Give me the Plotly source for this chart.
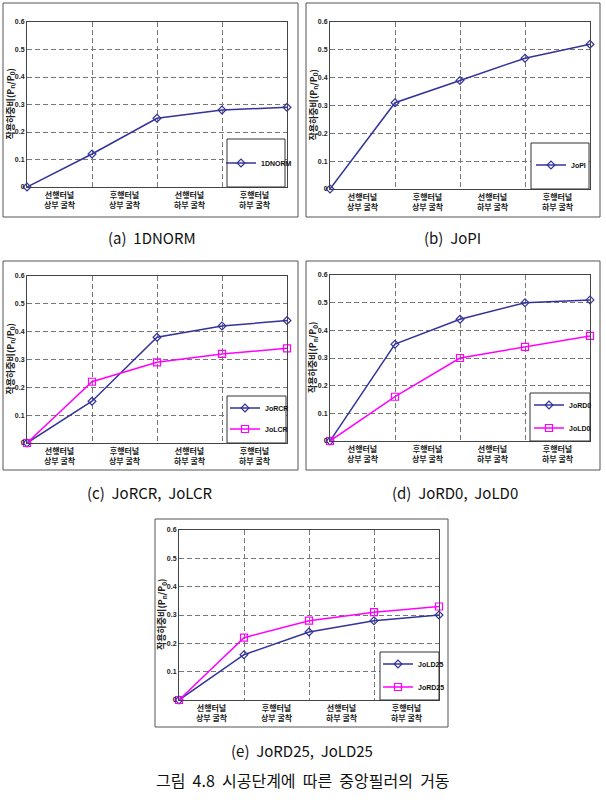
import plotly.graph_objects as go

W, H = 606, 802

stages = [0, 1, 2, 3, 4]
tick_pos = [0.5, 1.5, 2.5, 3.5]
tick_labels = ["선행터널<br>상부 굴착", "후행터널<br>상부 굴착", "선행터널<br>하부 굴착", "후행터널<br>하부 굴착"]
y_ticks = [0, 0.1, 0.2, 0.3, 0.4, 0.5, 0.6]
y_tick_text = ["0", "0.1", "0.2", "0.3", "0.4", "0.5", "0.6"]

norm_1d = [0, 0.12, 0.25, 0.28, 0.29]
jo_pi = [0, 0.31, 0.39, 0.47, 0.52]
jo_rcr = [0, 0.15, 0.38, 0.42, 0.44]
jo_lcr = [0, 0.22, 0.29, 0.32, 0.34]
jo_rd0 = [0, 0.35, 0.44, 0.50, 0.51]
jo_ld0 = [0, 0.16, 0.30, 0.34, 0.38]
jo_ld25 = [0, 0.16, 0.24, 0.28, 0.30]
jo_rd25 = [0, 0.22, 0.28, 0.31, 0.33]

NB = "\u00a0"
captions = ["(a)" + NB + " 1DNORM", "(b)" + NB + " JoPI", "(c)" + NB + " JoRCR," + NB + " JoLCR",
            "(d)" + NB + " JoRD0," + NB + " JoLD0", "(e)" + NB + " JoRD25," + NB + " JoLD25"]
fig_title = ("그림 4.8 시공단계에 따른 중앙필러의 거동").replace(" ", " " + NB)
y_title = "작용하중비(P<sub>n</sub>/P<sub>0</sub>)"

NAVY = "#333399"
MAG = "#FF00FF"

def px_x(v):
    return v / W

def px_y(v):
    return 1 - v / H

panels = [
    dict(plot=(27, 287, 22, 187), box=(3, 298, 3, 217), cap=(152, 237), yt=10),
    dict(plot=(330, 590, 22, 189), box=(306, 600, 3, 217), cap=(452, 237), yt=313),
    dict(plot=(27, 287, 276, 443), box=(3, 298, 261, 470), cap=(150, 493), yt=10),
    dict(plot=(330, 590, 275, 441), box=(306, 600, 261, 470), cap=(455, 493), yt=313),
    dict(plot=(179, 439, 530, 700), box=(155, 448, 519, 727), cap=(302, 750), yt=162),
]
legend_boxes = [(227, 285, 139, 187), (531, 589, 143, 189), (227, 286, 396, 443),
                (530, 590, 393, 441), (380, 439, 652, 700)]

series = [
    [("1DNORM", norm_1d, NAVY, "diamond-open", 163, 221)],
    [("JoPI", jo_pi, NAVY, "diamond-open", 165, 531)],
    [("JoRCR", jo_rcr, NAVY, "diamond-open", 408, 225), ("JoLCR", jo_lcr, MAG, "square-open", 429, 225)],
    [("JoRD0", jo_rd0, NAVY, "diamond-open", 405, 529), ("JoLD0", jo_ld0, MAG, "square-open", 428, 529)],
    [("JoLD25", jo_ld25, NAVY, "diamond-open", 664, 378), ("JoRD25", jo_rd25, MAG, "square-open", 687, 378)],
]

fig = go.Figure()
layout = dict(width=W, height=H, margin=dict(l=0, r=0, t=0, b=0), autosize=False,
              paper_bgcolor="white", plot_bgcolor="white", showlegend=True)
shapes = []
annotations = []
FONT = "Liberation Sans, Arial, Noto Sans CJK KR"
KFONT = "Noto Sans CJK KR, sans-serif"
GRID = "#777"

leg_idx = 0
for i, p in enumerate(panels):
    n = "" if i == 0 else str(i + 1)
    x0, x1, yt, yb = p["plot"]
    layout["xaxis" + n] = dict(
        domain=[px_x(x0), px_x(x1)], anchor="y" + n, range=[0, 4],
        tickvals=tick_pos, ticktext=tick_labels, showgrid=False, zeroline=False,
        showline=True, mirror=True, linecolor="#444", linewidth=1, ticks="",
        tickfont=dict(family=KFONT, size=8, color="#222", weight="bold"), automargin=False,
        minor=dict(tick0=0, dtick=1, showgrid=True, gridcolor=GRID, griddash="5px,3px", gridwidth=1),
    )
    layout["yaxis" + n] = dict(
        domain=[px_y(yb), px_y(yt)], anchor="x" + n, range=[0, 0.6],
        tickmode="array", tickvals=y_ticks, ticktext=y_tick_text, showgrid=True, gridcolor=GRID,
        gridwidth=1, griddash="5px,3px", zeroline=False, showline=True, mirror=True, linecolor="#444",
        linewidth=1, ticks="", tickfont=dict(family=FONT, size=7, color="#222", weight="bold"),
        automargin=False,
    )
    annotations.append(dict(text="<b>" + y_title + "</b>", x=px_x(p["yt"]), y=px_y((yt + yb) / 2),
                            xref="paper", yref="paper", showarrow=False, textangle=-90,
                            xanchor="center", yanchor="middle",
                            font=dict(family=KFONT, size=9, color="#222")))
    bx0, bx1, byt, byb = p["box"]
    shapes.append(dict(type="rect", xref="paper", yref="paper", x0=px_x(bx0), x1=px_x(bx1),
                       y0=px_y(byb), y1=px_y(byt), line=dict(color="#555", width=1)))
    lx0, lx1, lyt, lyb = legend_boxes[i]
    shapes.append(dict(type="rect", xref="paper", yref="paper", x0=px_x(lx0), x1=px_x(lx1),
                       y0=px_y(lyb), y1=px_y(lyt), line=dict(color="#333", width=1),
                       fillcolor="white", layer="above"))
    cx, cy = p["cap"]
    annotations.append(dict(text=captions[i], x=px_x(cx), y=px_y(cy), xref="paper", yref="paper",
                            showarrow=False, xanchor="center", yanchor="middle",
                            font=dict(family=KFONT, size=15, color="#111")))
    for name, vals, col, sym, ly, lx in series[i]:
        leg_idx += 1
        lname = "legend" if leg_idx == 1 else "legend" + str(leg_idx)
        msize = 6 if sym.startswith("diamond") else 7
        fig.add_trace(go.Scatter(
            x=stages, y=vals, name=name, mode="lines+markers", xaxis="x" + n, yaxis="y" + n,
            line=dict(color=col, width=1.5), marker=dict(symbol=sym, size=msize, color=col, line=dict(width=1.2)),
            cliponaxis=False, legend=lname,
        ))
        layout[lname] = dict(x=px_x(lx), y=px_y(ly), xanchor="left", yanchor="middle",
                             bgcolor="rgba(0,0,0,0)", borderwidth=0, itemwidth=30,
                             font=dict(family=FONT, size=7, color="#111", weight="bold"))

annotations.append(dict(text=fig_title, x=px_x(303), y=px_y(780), xref="paper", yref="paper",
                        showarrow=False, xanchor="center", yanchor="middle",
                        font=dict(family=KFONT, size=16, color="#111")))
layout["shapes"] = shapes
layout["annotations"] = annotations
fig.update_layout(**layout)
fig.write_html("out.html")
